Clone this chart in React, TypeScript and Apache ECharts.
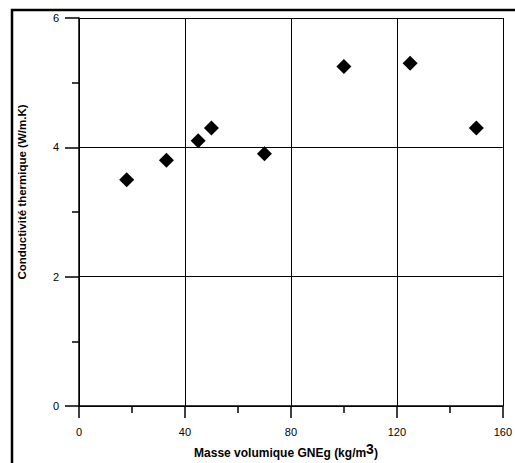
import React, { useEffect, useRef } from "react";
import * as echarts from "echarts";

const densities = [18, 33, 45, 50, 70, 100, 125, 150];
const conductivities = [3.5, 3.8, 4.1, 4.3, 3.9, 5.25, 5.3, 4.3];
const xTitle = "Masse volumique GNEg (kg/m";
const yTitle = "Conductivité thermique (W/m.K)";

export default function App() {
  const ref = useRef<HTMLDivElement>(null);
  useEffect(() => {
    if (!ref.current) return;
    document.body.style.margin = "0";
    const chart = echarts.init(ref.current, undefined, { renderer: "svg", width: 515, height: 463 });
    const font = "'Liberation Sans', Arial, sans-serif";
    chart.setOption({
      animation: false,
      backgroundColor: "#fff",
      grid: { left: 79, top: 18, right: 7, bottom: 57, containLabel: false },
      xAxis: {
        type: "value",
        min: 0,
        max: 160,
        interval: 40,
        axisLine: { show: true, onZero: false, lineStyle: { color: "#000", width: 1.5 } },
        axisTick: { show: true, inside: false, length: 12, lineStyle: { color: "#000", width: 1.5 } },
        minorTick: { show: true, splitNumber: 2, length: 7, lineStyle: { color: "#000", width: 1.5 } },
        splitLine: { show: true, lineStyle: { color: "#000", width: 1 } },
        axisLabel: { color: "#000", fontFamily: font, fontSize: 11, margin: 20 },
      },
      yAxis: {
        type: "value",
        min: 0,
        max: 6,
        interval: 2,
        axisLine: { show: true, onZero: false, lineStyle: { color: "#000", width: 1.5 } },
        axisTick: { show: true, inside: false, length: 14, lineStyle: { color: "#000", width: 1.5 } },
        minorTick: { show: true, splitNumber: 2, length: 7, lineStyle: { color: "#000", width: 1.5 } },
        splitLine: { show: true, lineStyle: { color: "#000", width: 1 } },
        axisLabel: { color: "#000", fontFamily: font, fontSize: 11, margin: 20 },
      },
      series: [
        {
          type: "scatter",
          symbol: "diamond",
          symbolSize: [15, 15],
          itemStyle: { color: "#000", opacity: 1 },
          data: densities.map((d, i) => [d, conductivities[i]]),
        },
      ],
      graphic: {
        elements: [
          {
            type: "polyline",
            id: "frame",
            z: 100,
            shape: { points: [[12, 470], [12, 10], [520, 10]] },
            style: { stroke: "#000", lineWidth: 2.5, fill: null },
            silent: true,
          },
          {
            type: "text",
            x: 286,
            y: 453,
            style: {
              text: xTitle + "{sup|3})",
              fill: "#000",
              font: "bold 12px 'Liberation Sans', Arial, sans-serif",
              align: "center",
              verticalAlign: "middle",
              rich: {
                sup: {
                  fontSize: 14,
                  fontWeight: "bold",
                  fontFamily: font,
                  fill: "#000",
                  padding: [0, 0, 8, 0],
                },
              },
            },
          },
          {
            type: "text",
            x: 22,
            y: 192,
            rotation: Math.PI / 2,
            style: {
              text: yTitle,
              fill: "#000",
              font: "bold 11.5px 'Liberation Sans', Arial, sans-serif",
              align: "center",
              verticalAlign: "middle",
            },
          },
        ],
      },
    });
    return () => chart.dispose();
  }, []);
  return <div ref={ref} style={{ width: 515, height: 463, overflow: "hidden" }} />;
}
